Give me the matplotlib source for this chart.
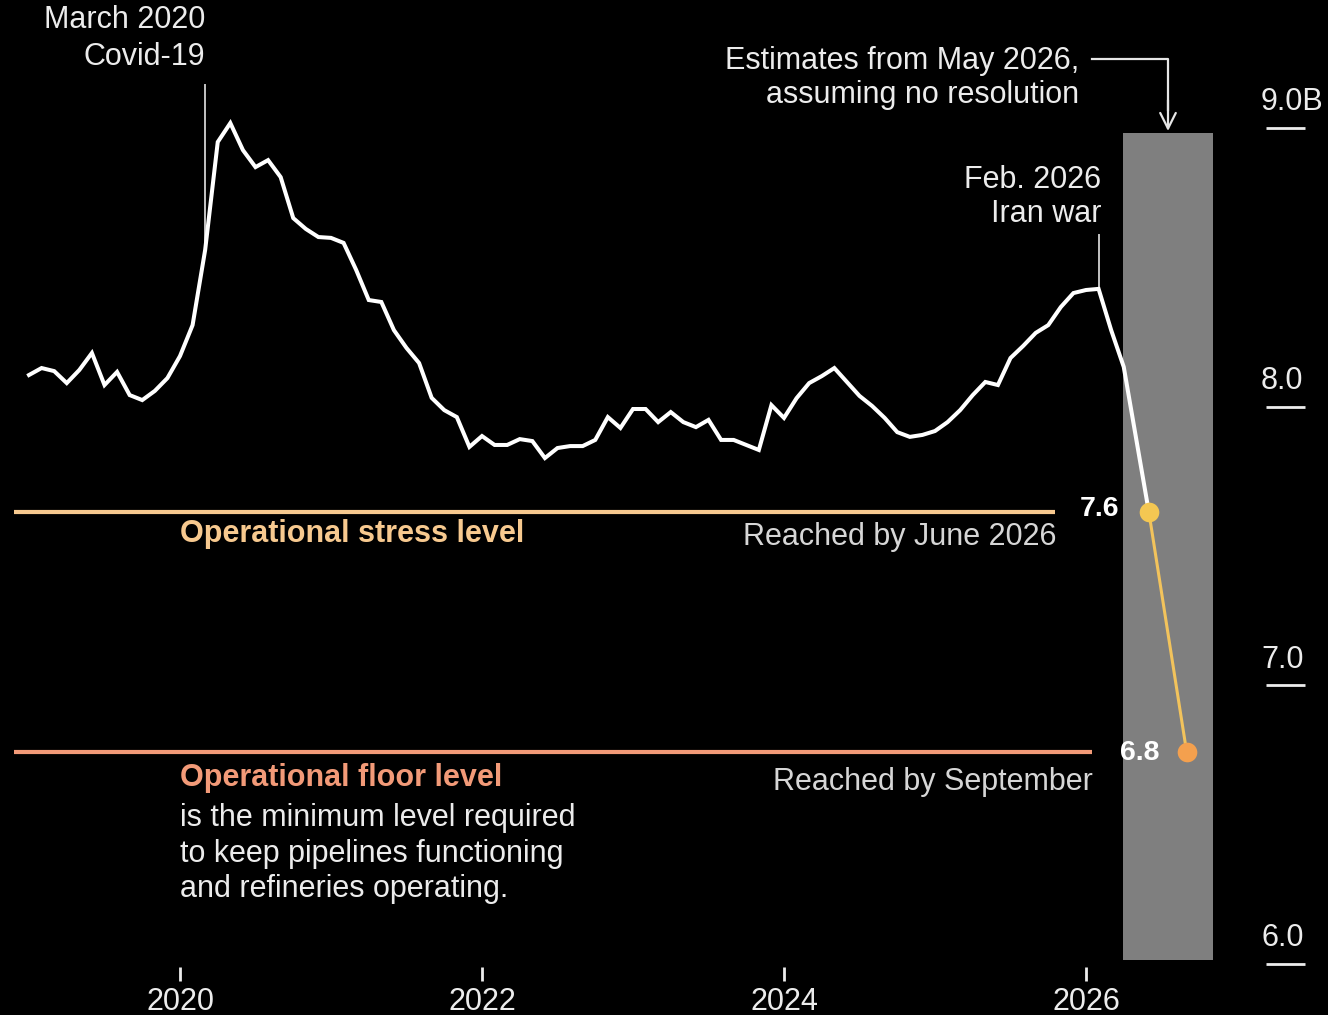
import numpy as np
import matplotlib
matplotlib.use("Agg")
import matplotlib.pyplot as plt

plt.rcParams['font.family'] = ['Liberation Sans', 'DejaVu Sans']

# ---------------- data ----------------
start_year = 2019  # monthly series from Jan 2019 to Apr 2026
hist_values = [
    8.113, 8.138, 8.127, 8.084, 8.131, 8.192, 8.077, 8.124, 8.041, 8.023, 8.056, 8.102,  # 2019
    8.181, 8.292, 8.562, 8.949, 9.017, 8.920, 8.859, 8.884, 8.823, 8.676, 8.637, 8.608,  # 2020
    8.605, 8.587, 8.490, 8.382, 8.375, 8.274, 8.210, 8.156, 8.031, 7.987, 7.962, 7.855,  # 2021
    7.894, 7.862, 7.862, 7.883, 7.876, 7.815, 7.851, 7.858, 7.858, 7.880, 7.962, 7.923,  # 2022
    7.991, 7.991, 7.944, 7.980, 7.944, 7.926, 7.952, 7.880, 7.880, 7.862, 7.844, 8.005,  # 2023
    7.959, 8.030, 8.084, 8.109, 8.138, 8.088, 8.038, 8.002, 7.959, 7.908, 7.891, 7.898,  # 2024
    7.912, 7.944, 7.987, 8.041, 8.088, 8.077, 8.174, 8.217, 8.264, 8.292, 8.357, 8.407,  # 2025
    8.418, 8.422, 8.274, 8.142,                                                          # 2026
]
proj_dates = [2026 + 5 / 12, 2026 + 8 / 12]      # June 2026, September 2026
proj_values = [7.62, 6.76]
proj_labels = ["7.6", "6.8"]
stress_level = 7.62
floor_level = 6.76
estimate_band = (2026.245, 2026.84)
ytick_values = [9.0, 8.0, 7.0, 6.0]
ytick_labels = ["9.0B", "8.0", "7.0", "6.0"]
xtick_values = [2020, 2022, 2024, 2026]
xtick_labels = ["2020", "2022", "2024", "2026"]
covid_date = 2020 + 2 / 12
iran_date = 2026 + 1 / 12

hist_dates = start_year + np.arange(len(hist_values)) / 12.0

# ---------------- layout helpers (pixel -> data) ----------------
def px(xp):
    return 2020 + (xp - 180) / 151.0

def py(yp):
    return 8.0 - (yp - 406.5) / 278.7

W, H = 1328, 1015
fig = plt.figure(figsize=(W / 100, H / 100), dpi=100, facecolor='black')
ax = fig.add_axes([0, 0, 1, 1])
ax.set_facecolor('black')
ax.set_xlim(px(0), px(W))
ax.set_ylim(py(H), py(0))
ax.axis('off')

FS = 22
TXT = '#ececec'
GREY_TXT = '#d6d6d6'
STRESS = '#f7c98f'
FLOOR = '#f29a78'

# estimate band
ax.fill_between(estimate_band, [py(960)] * 2, [py(133)] * 2, color='#7f7f7f', lw=0, zorder=1)

# reference levels
ax.plot([px(14), px(1055)], [stress_level] * 2, color=STRESS, lw=3.0, solid_capstyle='butt', zorder=2)
ax.plot([px(14), px(1092)], [floor_level] * 2, color=FLOOR, lw=3.0, solid_capstyle='butt', zorder=2)

# annotation lines
covid_val = np.interp(covid_date, hist_dates, hist_values)
iran_val = np.interp(iran_date, hist_dates, hist_values)
ax.plot([covid_date, covid_date], [py(85), covid_val], color='#c4c4c4', lw=1.4, zorder=2)
ax.plot([iran_date, iran_date], [py(235), iran_val], color='#c4c4c4', lw=1.4, zorder=2)

# main white line (history + bridge to June estimate)
ax.plot(list(hist_dates) + [proj_dates[0]], list(hist_values) + [proj_values[0]],
        color='white', lw=2.9, solid_joinstyle='miter', zorder=3)

# projection segment
ax.plot(proj_dates, proj_values, color='#f2c35c', lw=2.2, zorder=4)
ax.scatter([proj_dates[0]], [proj_values[0]], s=200, color='#f4c752', zorder=5, lw=0)
ax.scatter([proj_dates[1]], [proj_values[1]], s=200, color='#f4a04e', zorder=5, lw=0)
ax.text(px(1119), py(516), proj_labels[0], color='white', fontsize=20.5, fontweight='bold',
        ha='right', va='baseline')
ax.text(px(1159), py(760), proj_labels[1], color='white', fontsize=20.5, fontweight='bold',
        ha='right', va='baseline')

# estimates arrow
ax.plot([px(1092), px(1168), px(1168)], [py(59), py(59), py(110)], color='#e6e6e6', lw=1.6, zorder=3)
ax.annotate('', xy=(px(1168), py(131)), xytext=(px(1168), py(100)),
            arrowprops=dict(arrowstyle='->', color='#e6e6e6', lw=1.6, mutation_scale=28,
                            shrinkA=0, shrinkB=0))

# annotation texts
def t(xp, yp, s, ha='left', color=TXT, weight='normal', size=FS):
    ax.text(px(xp), py(yp), s, ha=ha, va='baseline', color=color, fontsize=size, fontweight=weight)

t(205, 28, "March 2020", ha='right')
t(205, 65, "Covid-19", ha='right')
t(1079, 69, "Estimates from May 2026,", ha='right')
t(1079, 103, "assuming no resolution", ha='right')
t(1101, 188, "Feb. 2026", ha='right')
t(1101, 222, "Iran war", ha='right')

t(180, 542, "Operational stress level", color=STRESS, weight='bold')
t(1056, 545, "Reached by June 2026", ha='right', color=GREY_TXT)
t(180, 786, "Operational floor level", color=FLOOR, weight='bold')
t(180, 826, "is the minimum level required")
t(180, 862, "to keep pipelines functioning")
t(180, 897, "and refineries operating.")
t(1093, 790, "Reached by September", ha='right', color=GREY_TXT)

# y-axis labels (right side, underlined)
for v, lab in zip(ytick_values, ytick_labels):
    ax.text(px(1261), v + 17.5 / 278.7, lab, ha='left', va='baseline',
            color=TXT, fontsize=FS)
    ax.plot([px(1266), px(1305)], [v, v], color=TXT, lw=2.0, solid_capstyle='butt')

# x-axis ticks
for v, lab in zip(xtick_values, xtick_labels):
    ax.plot([v, v], [py(967), py(981)], color=TXT, lw=2.0, solid_capstyle='butt')
    ax.text(v, py(1010), lab, ha='center', va='baseline', color=TXT, fontsize=FS)

fig.savefig('out.png', dpi=100, facecolor='black')
